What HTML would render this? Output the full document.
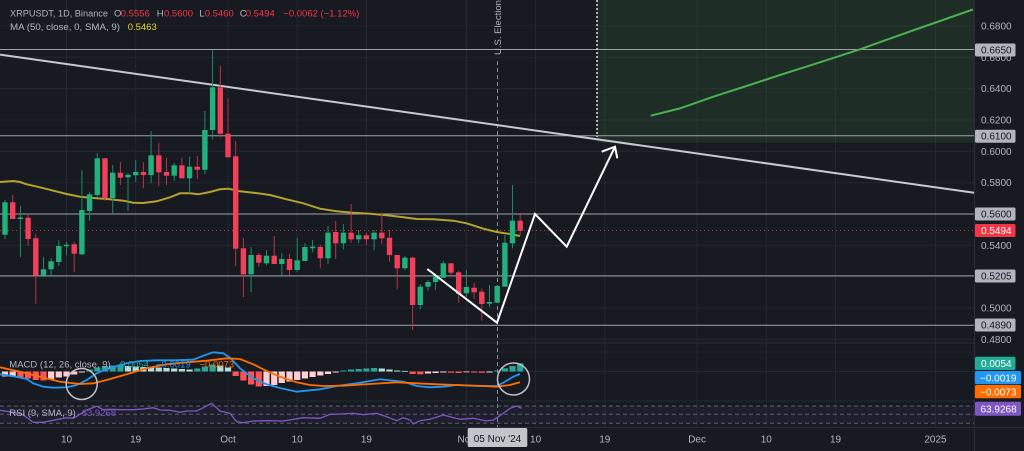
<!DOCTYPE html>
<html><head><meta charset="utf-8"><style>
html,body{margin:0;padding:0;background:#171a21;width:1024px;height:451px;overflow:hidden}
svg{display:block}
text{font-family:"Liberation Sans",sans-serif}
</style></head><body>
<svg width="1024" height="451" viewBox="0 0 1024 451" xmlns="http://www.w3.org/2000/svg">
<rect x="0" y="0" width="1024" height="451" fill="#171a21"/>
<!-- grid -->
<g stroke="#23272f" stroke-width="1">
<path d="M0 26H975M0 57.3H975M0 88.7H975M0 120H975M0 151.3H975M0 182.7H975M0 214H975M0 245.3H975M0 276.7H975M0 308H975M0 339.3H975M0 352H975M0 371.5H975"/>
<path d="M66.5 0V427M135.7 0V427M228 0V427M297.2 0V427M366.4 0V427M466.4 0V427M535.6 0V427M604.8 0V427M697.1 0V427M766.3 0V427M835.5 0V427M935.5 0V427"/>
</g>
<path d="M0 343H975M0 401H975" stroke="#262a33" stroke-width="1"/>
<!-- green target box -->
<rect x="597" y="0" width="378" height="142.7" fill="rgba(76,175,80,0.13)"/>
<!-- horizontal levels -->
<g stroke="#9ea1a9" stroke-width="1">
<path d="M0 49.5H975M0 135.7H975M0 214H975M0 275.9H975M0 325.2H975"/>
</g>
<!-- red price line -->
<path d="M0 230.5H975" stroke="#f23645" stroke-width="1" stroke-dasharray="1,3" opacity="0.8"/>
<!-- election line -->
<path d="M497.5 61V427" stroke="#8a8d96" stroke-width="1" stroke-dasharray="4,3"/>
<text transform="translate(501,55) rotate(-90)" font-size="9.5" fill="#b2b5be">U.S. Election</text>
<!-- dotted vertical -->
<path d="M597 0V137" stroke="#d6d6d6" stroke-width="1.6" stroke-dasharray="2,2"/>
<!-- trendline -->
<path d="M0 54.6L975 192.9" stroke="#c8c9cc" stroke-width="2"/>
<!-- green projection curve -->
<polyline points="650.7,115.7 680,108.4 713.3,96.7 745,86.5 780,75 820,62.3 860,49.3 910,31.5 960,14 973,9.5" fill="none" stroke="#4caf50" stroke-width="2"/>
<!-- MA -->
<polyline points="0,182 13.3,181 20,182 26.7,184.3 40,187.3 53.3,190.7 66.7,194 80,196.7 93.3,198 110,199.3 123.3,200.7 133.3,202.7 143.3,203 156.7,201.3 170,197.3 180,193.3 190,193.3 198.3,194.3 210,192 220,189.3 228.3,188.7 240,191.3 253.3,192.7 270,195 286.7,199.3 303.3,203.3 320,208.7 336.7,211.3 353.3,212.7 370,213.7 386.7,215.3 403.3,217.3 416.7,219 433.3,219.3 453.3,220.7 466.7,223.3 483.3,228.7 496.7,232 510,234 520,236" fill="none" stroke="#b5a32e" stroke-width="2"/>
<!-- wicks -->
<path d="M5 200V239M20.4 206V257M43.5 256.7V277.3M51.1 258.3V275.7M58.8 240.3V266M66.5 241.7V255.3M81.9 170V255M89.6 191.7V220.7M97.3 153.3V196.7M112.7 165V214M128 173.3V210.7M135.7 160V181.7M151.1 131V183.3M174.2 162.7V180.7M189.6 156.7V193.3M204.9 111V174M212.6 50.3V139.3M251.1 247.3V292M266.5 250V265M281.8 253.3V275M297.2 237.7V271.7M304.9 243.3V261M312.6 240V252.3M328 226V264M343.4 224V249.3M358.7 230V243.3M374.1 230V250M404.9 256V270M420.3 284V309.3M428 280V290.7M435.6 274V290M443.3 260.7V278.3M466.4 270V296.7M489.5 285V306.7M497.2 285V303M504.9 235V286.7M512.5 185V248.3" stroke="#1f8a66" stroke-width="1"/>
<path d="M12.7 195V219M28.1 215V245.7M35.8 234.3V303.7M74.2 241.7V271.7M105 158.3V200.7M120.4 162V185M143.4 162.3V188.3M158.8 142.7V186M166.5 158V185M181.9 158V178.3M197.3 156V179M220.3 65.7V137.7M228 98.3V157.3M235.7 141V266M243.4 238.3V297M258.8 252.7V266.7M274.2 236V264M289.5 254V275M320.3 245V268.3M335.7 221V259M351.1 204V242.7M366.4 232.7V245M381.8 212.7V244M389.5 230V261.7M397.2 255V289.3M412.6 256.7V330M451 263.3V276.7M458.7 270.7V302.7M474.1 282.7V299M481.8 288.3V320.7M520.2 214.3V235" stroke="#b83346" stroke-width="1"/>
<!-- green bodies -->
<g fill="#22b07d">
<rect x="2.3" y="202.3" width="5.4" height="32.4"/>
<rect x="17.7" y="217.5" width="5.4" height="1.5"/>
<rect x="40.8" y="269.3" width="5.4" height="6.4"/>
<rect x="48.4" y="261.3" width="5.4" height="8"/>
<rect x="56.1" y="246" width="5.4" height="16"/>
<rect x="63.8" y="244.7" width="5.4" height="1.6"/>
<rect x="79.2" y="210" width="5.4" height="44.3"/>
<rect x="86.9" y="194.3" width="5.4" height="16.7"/>
<rect x="94.6" y="158.3" width="5.4" height="36.7"/>
<rect x="110" y="172.7" width="5.4" height="25.3"/>
<rect x="125.3" y="174.7" width="5.4" height="2.6"/>
<rect x="133" y="172" width="5.4" height="3.3"/>
<rect x="148.4" y="155.3" width="5.4" height="19.7"/>
<rect x="171.5" y="165.3" width="5.4" height="10.4"/>
<rect x="186.9" y="166.7" width="5.4" height="11.6"/>
<rect x="202.2" y="130" width="5.4" height="39.7"/>
<rect x="209.9" y="87.3" width="5.4" height="42.7"/>
<rect x="248.4" y="255" width="5.4" height="19.3"/>
<rect x="263.8" y="255.7" width="5.4" height="7.6"/>
<rect x="279.1" y="259" width="5.4" height="5"/>
<rect x="294.5" y="260.3" width="5.4" height="9.7"/>
<rect x="302.2" y="247" width="5.4" height="14"/>
<rect x="309.9" y="246.7" width="5.4" height="1.6"/>
<rect x="325.3" y="232.7" width="5.4" height="25.6"/>
<rect x="340.7" y="232.7" width="5.4" height="10.6"/>
<rect x="356" y="235.3" width="5.4" height="4"/>
<rect x="371.4" y="232.7" width="5.4" height="6.6"/>
<rect x="402.2" y="257.7" width="5.4" height="10.6"/>
<rect x="417.6" y="286.7" width="5.4" height="18.3"/>
<rect x="425.3" y="282" width="5.4" height="4.7"/>
<rect x="432.9" y="276.7" width="5.4" height="5.3"/>
<rect x="440.6" y="263.3" width="5.4" height="14.4"/>
<rect x="463.7" y="287" width="5.4" height="6.3"/>
<rect x="486.8" y="302" width="5.4" height="1.7"/>
<rect x="494.5" y="286" width="5.4" height="16.7"/>
<rect x="502.2" y="242.7" width="5.4" height="44"/>
<rect x="509.8" y="220.7" width="5.4" height="22.6"/>
</g>
<!-- red bodies -->
<g fill="#f23f5a">
<rect x="10" y="202.3" width="5.4" height="16.7"/>
<rect x="25.4" y="217.7" width="5.4" height="21.3"/>
<rect x="33.1" y="238.3" width="5.4" height="37.4"/>
<rect x="71.5" y="244.3" width="5.4" height="9.4"/>
<rect x="102.3" y="158.3" width="5.4" height="40"/>
<rect x="117.7" y="172.7" width="5.4" height="5"/>
<rect x="140.7" y="172" width="5.4" height="3"/>
<rect x="156.1" y="155.3" width="5.4" height="17"/>
<rect x="163.8" y="172" width="5.4" height="3.7"/>
<rect x="179.2" y="165.3" width="5.4" height="13"/>
<rect x="194.6" y="166.7" width="5.4" height="3"/>
<rect x="217.6" y="87.3" width="5.4" height="46.4"/>
<rect x="225.3" y="133.7" width="5.4" height="23.6"/>
<rect x="233" y="156.3" width="5.4" height="92.4"/>
<rect x="240.7" y="248.3" width="5.4" height="26"/>
<rect x="256.1" y="255" width="5.4" height="7.7"/>
<rect x="271.5" y="255.7" width="5.4" height="8.3"/>
<rect x="286.8" y="259" width="5.4" height="11"/>
<rect x="317.6" y="247" width="5.4" height="11.3"/>
<rect x="333" y="232" width="5.4" height="11.3"/>
<rect x="348.4" y="232.7" width="5.4" height="6.6"/>
<rect x="363.7" y="235.3" width="5.4" height="4"/>
<rect x="379.1" y="232.7" width="5.4" height="5.6"/>
<rect x="386.8" y="237.7" width="5.4" height="17.3"/>
<rect x="394.5" y="255" width="5.4" height="13.3"/>
<rect x="409.9" y="257.7" width="5.4" height="47.3"/>
<rect x="448.3" y="263.3" width="5.4" height="9.4"/>
<rect x="456" y="272.3" width="5.4" height="21.7"/>
<rect x="471.4" y="287.7" width="5.4" height="4.6"/>
<rect x="479.1" y="291.7" width="5.4" height="12.3"/>
<rect x="517.5" y="220.7" width="5.4" height="10"/>
</g>
<!-- zigzag arrow -->
<polyline points="427.3,269 497,322.7 535,214 566.7,246.7 615,146.7" fill="none" stroke="#ffffff" stroke-width="2" stroke-linejoin="miter"/>
<polyline points="601.7,151.7 615,146.7 617.3,158.3" fill="none" stroke="#ffffff" stroke-width="2"/>
<!-- legend -->
<g font-size="9.5" fill="#b2b5be">
<text x="10" y="16.6" textLength="98" lengthAdjust="spacingAndGlyphs">XRPUSDT, 1D, Binance</text>
<text x="114" y="16.6">O</text><text x="120.7" y="16.6" fill="#f23645">0.5556</text>
<text x="156.7" y="16.6">H</text><text x="164" y="16.6" fill="#f23645">0.5600</text>
<text x="199.3" y="16.6">L</text><text x="204.7" y="16.6" fill="#f23645">0.5460</text>
<text x="239.7" y="16.6">C</text><text x="245.7" y="16.6" fill="#f23645">0.5494</text>
<text x="283.3" y="16.6" fill="#f23645">−0.0062 (−1.12%)</text>
<text x="10" y="30" textLength="110" lengthAdjust="spacingAndGlyphs">MA (50, close, 0, SMA, 9)</text>
<text x="127.7" y="30" fill="#e6d32f">0.5463</text>
</g>
<!-- MACD histogram -->
<g>
<rect x="1.9" y="371.5" width="6.2" height="5" fill="#ffcdd2"/>
<rect x="9.6" y="371.5" width="6.2" height="5" fill="#ffcdd2"/>
<rect x="17.3" y="371.5" width="6.2" height="6" fill="#ff5252"/>
<rect x="25" y="371.5" width="6.2" height="7" fill="#ff5252"/>
<rect x="32.7" y="371.5" width="6.2" height="8.5" fill="#ff5252"/>
<rect x="40.4" y="371.5" width="6.2" height="9" fill="#ff5252"/>
<rect x="48" y="371.5" width="6.2" height="8" fill="#ffcdd2"/>
<rect x="55.7" y="371.5" width="6.2" height="6" fill="#ffcdd2"/>
<rect x="63.4" y="371.5" width="6.2" height="5" fill="#ffcdd2"/>
<rect x="71.1" y="371.5" width="6.2" height="3" fill="#ffcdd2"/>
<rect x="78.8" y="371.5" width="6.2" height="1" fill="#ffcdd2"/>
<rect x="86.5" y="369.5" width="6.2" height="2" fill="#26a69a"/>
<rect x="94.2" y="367.5" width="6.2" height="4" fill="#26a69a"/>
<rect x="101.9" y="366" width="6.2" height="5.5" fill="#26a69a"/>
<rect x="109.6" y="365.5" width="6.2" height="6" fill="#26a69a"/>
<rect x="117.3" y="365" width="6.2" height="6.5" fill="#26a69a"/>
<rect x="124.9" y="366" width="6.2" height="5.5" fill="#b2dfdb"/>
<rect x="132.6" y="366.5" width="6.2" height="5" fill="#b2dfdb"/>
<rect x="140.3" y="367" width="6.2" height="4.5" fill="#b2dfdb"/>
<rect x="148" y="367" width="6.2" height="4.5" fill="#b2dfdb"/>
<rect x="155.7" y="367.5" width="6.2" height="4" fill="#b2dfdb"/>
<rect x="163.4" y="368" width="6.2" height="3.5" fill="#b2dfdb"/>
<rect x="171.1" y="368.5" width="6.2" height="3" fill="#b2dfdb"/>
<rect x="178.8" y="369" width="6.2" height="2.5" fill="#b2dfdb"/>
<rect x="186.5" y="369.5" width="6.2" height="2" fill="#b2dfdb"/>
<rect x="194.2" y="368.5" width="6.2" height="3" fill="#26a69a"/>
<rect x="201.8" y="366.5" width="6.2" height="5" fill="#26a69a"/>
<rect x="209.5" y="364.5" width="6.2" height="7" fill="#26a69a"/>
<rect x="217.2" y="365.5" width="6.2" height="6" fill="#b2dfdb"/>
<rect x="224.9" y="367.5" width="6.2" height="4" fill="#b2dfdb"/>
<rect x="232.6" y="371.5" width="6.2" height="4.5" fill="#ff5252"/>
<rect x="240.3" y="371.5" width="6.2" height="9" fill="#ff5252"/>
<rect x="248" y="371.5" width="6.2" height="13" fill="#ff5252"/>
<rect x="255.7" y="371.5" width="6.2" height="15" fill="#ff5252"/>
<rect x="263.4" y="371.5" width="6.2" height="14.5" fill="#ffcdd2"/>
<rect x="271.1" y="371.5" width="6.2" height="13.5" fill="#ffcdd2"/>
<rect x="278.7" y="371.5" width="6.2" height="11.5" fill="#ffcdd2"/>
<rect x="286.4" y="371.5" width="6.2" height="10" fill="#ffcdd2"/>
<rect x="294.1" y="371.5" width="6.2" height="8.5" fill="#ffcdd2"/>
<rect x="301.8" y="371.5" width="6.2" height="7" fill="#ffcdd2"/>
<rect x="309.5" y="371.5" width="6.2" height="5.5" fill="#ffcdd2"/>
<rect x="317.2" y="371.5" width="6.2" height="4" fill="#ffcdd2"/>
<rect x="324.9" y="371.5" width="6.2" height="2.5" fill="#ffcdd2"/>
<rect x="332.6" y="371.5" width="6.2" height="1" fill="#ffcdd2"/>
<rect x="340.3" y="370.5" width="6.2" height="1" fill="#26a69a"/>
<rect x="348" y="369.5" width="6.2" height="2" fill="#26a69a"/>
<rect x="355.6" y="369" width="6.2" height="2.5" fill="#26a69a"/>
<rect x="363.3" y="368.5" width="6.2" height="3" fill="#26a69a"/>
<rect x="371" y="368" width="6.2" height="3.5" fill="#26a69a"/>
<rect x="378.7" y="368.5" width="6.2" height="3" fill="#b2dfdb"/>
<rect x="386.4" y="369.5" width="6.2" height="2" fill="#b2dfdb"/>
<rect x="394.1" y="370.5" width="6.2" height="1" fill="#b2dfdb"/>
<rect x="401.8" y="370.9" width="6.2" height="0.8" fill="#b2dfdb"/>
<rect x="409.5" y="371.5" width="6.2" height="2.5" fill="#ff5252"/>
<rect x="417.2" y="371.5" width="6.2" height="2.8" fill="#ff5252"/>
<rect x="424.9" y="371.5" width="6.2" height="2" fill="#ffcdd2"/>
<rect x="432.5" y="371.5" width="6.2" height="1.5" fill="#ffcdd2"/>
<rect x="440.2" y="371.5" width="6.2" height="1" fill="#ffcdd2"/>
<rect x="447.9" y="371.5" width="6.2" height="1.2" fill="#ff5252"/>
<rect x="455.6" y="371.5" width="6.2" height="1.5" fill="#ff5252"/>
<rect x="463.3" y="371.5" width="6.2" height="0.8" fill="#ffcdd2"/>
<rect x="471" y="371.5" width="6.2" height="1" fill="#ff5252"/>
<rect x="478.7" y="371.5" width="6.2" height="1.3" fill="#ff5252"/>
<rect x="486.4" y="371.5" width="6.2" height="1" fill="#ffcdd2"/>
<rect x="494.1" y="370.5" width="6.2" height="1" fill="#26a69a"/>
<rect x="501.8" y="368.3" width="6.2" height="3.2" fill="#26a69a"/>
<rect x="509.4" y="366" width="6.2" height="5.5" fill="#26a69a"/>
<rect x="517.1" y="363.3" width="6.2" height="8.2" fill="#26a69a"/>
</g>
<!-- MACD lines -->
<polyline points="0,374.3 13.3,376.3 26.7,379 33.3,383.3 43.3,386.7 53.3,387.7 66.7,387.3 76.7,385 86.7,380 96.7,373.3 110,367.7 126.7,363.3 140,361 156.7,360.3 173.3,360.3 193.3,359.7 203.3,355.7 213.3,352.3 223.3,353.3 230,357.7 240,368.3 253.3,378.3 266.7,384.3 280,388 296.7,391.7 320,389.3 336.7,386 356.7,383.3 380,379.3 403.3,381.7 416.7,386 430,387.3 443.3,386.7 456.7,385 476.7,386 496.7,386 503.3,382.7 513.3,376.7 520,374" fill="none" stroke="#2196f3" stroke-width="1.8"/>
<polyline points="0,367.3 20,371.7 40,376.7 60,381.7 80,384 93.3,383.3 106.7,380 126.7,374.3 146.7,368.3 166.7,364.3 186.7,362.3 206.7,360.7 226.7,358.3 240,359 253.3,364.3 266.7,371 280,376.7 296.7,382.3 310,385 323.3,386 343.3,385.7 370,384 396.7,382.3 416.7,383.3 436.7,384.3 456.7,385 483.3,386 496.7,386.7 510,385 520,382.3" fill="none" stroke="#ff6d00" stroke-width="1.8"/>
<circle cx="81.7" cy="384" r="15.5" fill="none" stroke="#bfc1c6" stroke-width="1.5"/>
<circle cx="513.5" cy="379" r="16" fill="none" stroke="#bfc1c6" stroke-width="1.5"/>
<g font-size="9.5">
<text x="9.3" y="367.3" fill="#b2b5be">MACD (12, 26, close, 9)</text>
<text x="120" y="367.3" fill="#26a69a">0.0054</text>
<text x="156" y="367.3" fill="#2196f3">−0.0019</text>
<text x="199.5" y="367.3" fill="#ff6d00">−0.0073</text>
</g>
<!-- RSI -->
<rect x="0" y="406" width="975" height="17.3" fill="rgba(126,87,194,0.08)"/>
<path d="M0 406H975M0 414.3H975M0 423.3H975" stroke="#5d606b" stroke-width="1" stroke-dasharray="4,3"/>
<polyline points="0,410.3 13.3,412.3 23.3,415 33.3,422.3 43.3,422.3 53.3,420.3 66.7,417.7 73.3,418.3 80,414.3 86.7,410 96.7,406.3 103.3,409.7 110,409.3 120,409.7 133.3,409.7 143.3,409 153.3,407.7 160,410 170,410.3 180,412.3 186.7,411 196.7,411 203.3,407.7 211.7,403.3 220,411 230,413.3 236.7,421.7 243.3,422.7 253.3,421 266.7,420.7 283.3,421 303.3,417.7 320,418.3 330,414.3 340,414 353.3,413.3 363.3,414.7 376.7,413.3 386.7,416.7 396.7,420.7 403.3,417.7 410,420 413.3,424 420,420.7 430,419.3 443.3,415 450,416.7 460,419.3 473.3,418.3 486.7,421 493.3,420 503.3,413.3 510,408.3 516.7,406 521.7,408.3" fill="none" stroke="#7e57c2" stroke-width="1.3"/>
<g font-size="9.5">
<text x="9.3" y="416" fill="#b2b5be">RSI (9, SMA, 9)</text>
<text x="81.7" y="416" fill="#7e57c2">63.9268</text>
</g>
<!-- axes borders -->
<path d="M974.5 0V451" stroke="#2a2e39" stroke-width="1"/>
<path d="M0 427.5H1024" stroke="#2a2e39" stroke-width="1"/>
<!-- price axis labels -->
<g font-size="10" fill="#b2b5be">
<text x="981" y="29.5">0.6800</text>
<text x="981" y="60.8">0.6600</text>
<text x="981" y="92.2">0.6400</text>
<text x="981" y="123.5">0.6200</text>
<text x="981" y="154.8">0.6000</text>
<text x="981" y="186.2">0.5800</text>
<text x="981" y="248.8">0.5400</text>
<text x="981" y="311.5">0.5000</text>
<text x="981" y="342.8">0.4800</text>
</g>
<g>
<rect x="975" y="43.5" width="40.5" height="13" rx="1.5" fill="#b2b5be"/>
<rect x="975" y="129.7" width="40.5" height="13" rx="1.5" fill="#b2b5be"/>
<rect x="975" y="207.5" width="40.5" height="13" rx="1.5" fill="#b2b5be"/>
<rect x="975" y="224" width="40.5" height="13" rx="1.5" fill="#f23645"/>
<rect x="975" y="269.5" width="40.5" height="13" rx="1.5" fill="#b2b5be"/>
<rect x="975" y="318.5" width="40.5" height="13" rx="1.5" fill="#b2b5be"/>
<rect x="975" y="356.7" width="40.5" height="13.3" rx="1.5" fill="#22ab94"/>
<rect x="975" y="371" width="46" height="13.3" rx="1.5" fill="#2196f3"/>
<rect x="975" y="385" width="46" height="13.3" rx="1.5" fill="#ff6d00"/>
<rect x="975" y="401.7" width="46" height="14" rx="1.5" fill="#7e57c2"/>
</g>
<g font-size="10">
<text x="981" y="53.5" fill="#131722">0.6650</text>
<text x="981" y="139.7" fill="#131722">0.6100</text>
<text x="981" y="217.5" fill="#131722">0.5600</text>
<text x="981" y="234" fill="#ffffff">0.5494</text>
<text x="981" y="279.5" fill="#131722">0.5205</text>
<text x="981" y="328.5" fill="#131722">0.4890</text>
<text x="981" y="367" fill="#ffffff">0.0054</text>
<text x="980" y="381.3" fill="#ffffff">−0.0019</text>
<text x="980" y="395.3" fill="#ffffff">−0.0073</text>
<text x="980.5" y="412.3" fill="#ffffff">63.9268</text>
</g>
<!-- time axis -->
<g font-size="10" fill="#b2b5be" text-anchor="middle">
<text x="66.5" y="442.5">10</text>
<text x="135.7" y="442.5">19</text>
<text x="228" y="442.5">Oct</text>
<text x="297.2" y="442.5">10</text>
<text x="366.4" y="442.5">19</text>
<text x="466.4" y="442.5">Nov</text>
<text x="535.6" y="442.5">10</text>
<text x="604.8" y="442.5">19</text>
<text x="697.1" y="442.5">Dec</text>
<text x="766.3" y="442.5">10</text>
<text x="835.5" y="442.5">19</text>
<text x="935.5" y="442.5">2025</text>
</g>
<rect x="467.7" y="428" width="59.6" height="19" rx="1.5" fill="#c3c5cb"/>
<text x="497.5" y="442" font-size="10" fill="#131722" text-anchor="middle">05 Nov '24</text>
</svg>
</body></html>
